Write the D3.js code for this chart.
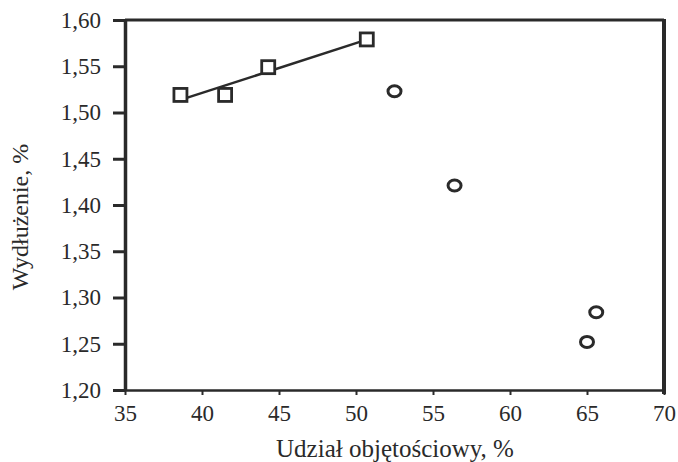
<!DOCTYPE html>
<html>
<head>
<meta charset="utf-8">
<script src="https://cdn.jsdelivr.net/npm/d3@7"></script>
<style>
  body { margin: 0; background: #fff; }
  text { font-family: 'Liberation Serif', 'DejaVu Serif', serif; fill: #2a2a2a; }
</style>
</head>
<body>
<svg id="chart" width="678" height="462"></svg>
<script>
// squares (fitted with a line) and circles
const squareX = [38.6, 41.5, 44.3, 50.7]
const squareY = [1.519, 1.519, 1.549, 1.579]
const circleX = [52.5, 56.4, 65.6, 65.0]
const circleY = [1.523, 1.421, 1.284, 1.252]
const xTicks = [35, 40, 45, 50, 55, 60, 65, 70]
const yTicks = [1.20, 1.25, 1.30, 1.35, 1.40, 1.45, 1.50, 1.55, 1.60]

const MARGIN = {top: 20, right: 14, bottom: 72, left: 125}
const W = 678, H = 462
const INK = '#2a2a2a'

let svg = d3.select('#chart')

let x = d3.scaleLinear().domain([35, 70]).range([MARGIN.left, W - MARGIN.right])
let y = d3.scaleLinear().domain([1.20, 1.60]).range([H - MARGIN.bottom, MARGIN.top])

let fmt = d => d3.format('.2f')(d).replace('.', ',')

// top frame line
svg.append('line')
  .attr('x1', x(35)).attr('x2', x(70))
  .attr('y1', y(1.60)).attr('y2', y(1.60))
  .attr('stroke', INK).attr('stroke-width', 3)

// right frame line (thicker)
svg.append('line')
  .attr('x1', x(70)).attr('x2', x(70))
  .attr('y1', y(1.60) - 1).attr('y2', y(1.20) + 4)
  .attr('stroke', INK).attr('stroke-width', 4)

// x axis
let xAxis = svg.append('g')
  .attr('transform', 'translate(0,' + y(1.20) + ')')
  .call(d3.axisBottom(x).tickValues(xTicks).tickSize(5).tickSizeOuter(0).tickPadding(10))
xAxis.select('.domain').attr('stroke', INK).attr('stroke-width', 2.5)
xAxis.selectAll('.tick line').attr('stroke', INK).attr('stroke-width', 2)
xAxis.selectAll('.tick text').attr('font-size', 23).attr('fill', INK)

// y axis
let yAxis = svg.append('g')
  .attr('transform', 'translate(' + x(35) + ',0)')
  .call(d3.axisLeft(y).tickValues(yTicks).tickFormat(fmt).tickSize(12).tickSizeOuter(0).tickPadding(12))
yAxis.select('.domain').attr('stroke', INK).attr('stroke-width', 3.5)
yAxis.selectAll('.tick line').attr('stroke', INK).attr('stroke-width', 3)
yAxis.selectAll('.tick text').attr('font-size', 23).attr('fill', INK)

// axis titles
svg.append('text')
  .attr('x', 395).attr('y', 457)
  .attr('text-anchor', 'middle')
  .attr('font-size', 25)
  .text('Udział objętościowy, %')

svg.append('text')
  .attr('transform', 'translate(28,217) rotate(-90)')
  .attr('text-anchor', 'middle')
  .attr('font-size', 24)
  .text('Wydłużenie, %')

// least-squares line through the square series
let mx = d3.mean(squareX), my = d3.mean(squareY)
let slope = d3.sum(squareX, (v, i) => (v - mx) * (squareY[i] - my)) /
  d3.sum(squareX, v => (v - mx) * (v - mx))
let x0 = d3.min(squareX), x1 = d3.max(squareX)
svg.append('line')
  .attr('x1', x(x0)).attr('y1', y(my + slope * (x0 - mx)))
  .attr('x2', x(x1)).attr('y2', y(my + slope * (x1 - mx)))
  .attr('stroke', INK).attr('stroke-width', 2.5)

// square markers
svg.selectAll('.sq')
  .data(squareX.map((v, i) => [v, squareY[i]]))
  .enter().append('rect')
  .attr('class', 'sq')
  .attr('x', d => x(d[0]) - 6.5)
  .attr('y', d => y(d[1]) - 6.5)
  .attr('width', 13).attr('height', 13)
  .attr('fill', '#fff').attr('stroke', INK).attr('stroke-width', 2.8)

// circle markers
svg.selectAll('.ci')
  .data(circleX.map((v, i) => [v, circleY[i]]))
  .enter().append('ellipse')
  .attr('class', 'ci')
  .attr('cx', d => x(d[0]))
  .attr('cy', d => y(d[1]))
  .attr('rx', 6.5).attr('ry', 5.5)
  .attr('fill', '#fff').attr('stroke', INK).attr('stroke-width', 3)
</script>
</body>
</html>
